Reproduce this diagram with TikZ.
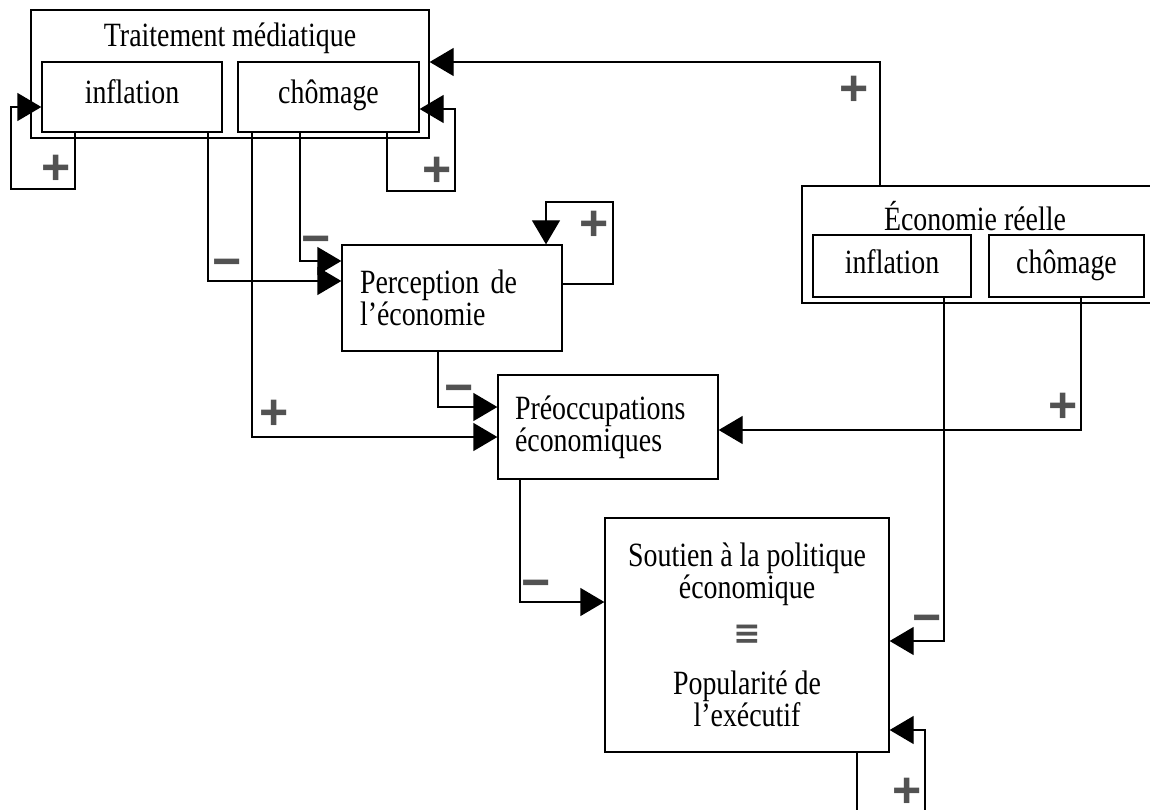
\documentclass[tikz,border=0pt]{standalone}
\usepackage{fontspec}
\setmainfont{Liberation Serif}[FakeStretch=0.82]
\newfontfamily\signfont{Liberation Sans}
\newfontfamily\eqfont{DejaVu Sans}
\usetikzlibrary{arrows.meta}

\begin{document}
\begin{tikzpicture}[x=1pt, y=-1pt,
    every node/.style={font=\fontsize{34}{32}\selectfont},
    box/.style={draw, line width=1.3pt, inner sep=0pt},
    inbox/.style={box, text height=24pt, text depth=10pt},
    fb/.style={line width=1.3pt, -{Triangle[length=24pt,width=28pt]}},
    sign/.style={text=black!68, font=\signfont\bfseries\fontsize{50}{50}\selectfont,
        inner sep=0pt, text height=0.7em, text depth=0pt, yshift=-14pt}]
    \useasboundingbox (0,0) rectangle (1150,810);
    \clip (0,0) rectangle (1150,810);

    % Traitement mediatique
    \node[box, minimum width=398pt, minimum height=128pt] (med) at (230,74) {};
    \node[anchor=base] (medtitre) at (230,47) {Traitement médiatique};
    \node[inbox, minimum width=180pt, minimum height=70pt] (medinf) at (132,97) {inflation};
    \node[inbox, minimum width=181pt, minimum height=70pt] (medcho) at (328.5,97) {chômage};

    % Economie reelle
    \node[box, minimum width=358pt, minimum height=117pt] (eco) at (981,244.5) {};
    \node[anchor=base] (ecotitre) at (975,231) {Économie réelle};
    \node[inbox, minimum width=158pt, minimum height=62pt] (ecoinf) at (892,266) {inflation};
    \node[inbox, minimum width=155pt, minimum height=62pt] (ecocho) at (1066.5,266) {chômage};

    % Boites centrales
    \node[box, minimum width=220pt, minimum height=106pt, text width=184pt, align=left]
        (perc) at (452,298) {Perception de\\l’économie};
    \node[box, minimum width=220pt, minimum height=104pt, text width=186pt, align=left]
        (preo) at (608,427) {Préoccupations\\économiques};
    \node[box, minimum width=284pt, minimum height=234pt, align=center] (sout) at (747,635)
        {Soutien à la politique\\économique\\[14pt]{\eqfont\bfseries\fontsize{33}{32}\selectfont\color{black!68}≡}\\[18pt]Popularité de\\l’exécutif};

    % Boucles
    \draw[fb] (75,0 |- medinf.south) |- (11,189) |- (medinf.west |- 0,107);
    \node[sign] (s1) at (56,167) {+};
    \draw[fb] (387,0 |- medcho.south) |- (455,191) |- (medcho.east |- 0,109);
    \node[sign] (s2) at (437,169) {+};
    \draw[fb] (perc.east |- 0,284) -| (613,202) -| (546,0 |- perc.north);
    \node[sign] (s3) at (594,223) {+};
    \draw[fb] (857,0 |- sout.south) |- (925,830) |- (sout.east |- 0,730);
    \node[sign] (s4) at (907,790) {+};

    % Liens
    \draw[fb] (880,0 |- eco.north) |- (med.east |- 0,62);
    \node[sign] (s5) at (854,88) {+};
    \draw[fb] (208,0 |- medinf.south) |- (perc.west |- 0,281);
    \node[sign] (s6) at (227,261) {−};
    \draw[fb] (300,0 |- medcho.south) |- (perc.west |- 0,261);
    \node[sign] (s7) at (316,238) {−};
    \draw[fb] (252,0 |- medcho.south) |- (preo.west |- 0,437);
    \node[sign] (s8) at (274,412) {+};
    \draw[fb] (438,0 |- perc.south) |- (preo.west |- 0,407);
    \node[sign] (s9) at (459,387) {−};
    \draw[fb] (1081,0 |- ecocho.south) |- (preo.east |- 0,430);
    \node[sign] (s10) at (1063,405) {+};
    \draw[fb] (520,0 |- preo.south) |- (sout.west |- 0,602);
    \node[sign] (s11) at (536,582) {−};
    \draw[fb] (944,0 |- ecoinf.south) |- (sout.east |- 0,641);
    \node[sign] (s12) at (927,617) {−};
\end{tikzpicture}
\end{document}
